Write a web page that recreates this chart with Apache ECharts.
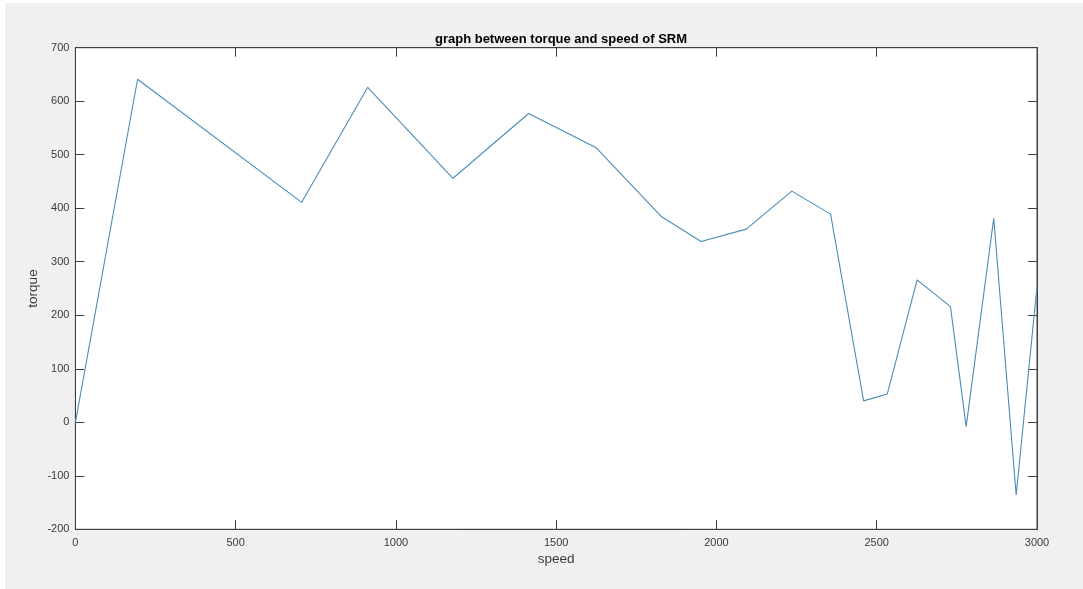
<!DOCTYPE html>
<html>
<head>
<meta charset="utf-8">
<script src="https://cdn.jsdelivr.net/npm/echarts@6/dist/echarts.min.js"></script>
<style>
html,body{margin:0;padding:0;background:#ffffff;width:1083px;height:589px;overflow:hidden;}
#chart{position:absolute;left:5px;top:3px;width:1078px;height:586px;}
</style>
</head>
<body>
<div id="chart"></div>
<script>
const speed  = [0, 194, 706, 912, 1178, 1414, 1625, 1829, 1952, 2093, 2235, 2356, 2459, 2533, 2626, 2730, 2779, 2865, 2935, 3000];
const torque = [0, 641, 411, 626, 456, 577, 513, 384, 338, 361, 432, 389, 40, 53, 266, 216, -8, 381, -136, 253];
const xTicks = [0, 500, 1000, 1500, 2000, 2500, 3000];
const yTicks = [-200, -100, 0, 100, 200, 300, 400, 500, 600, 700];

const points = speed.map((s, i) => [s, torque[i]]);
const font = 'Liberation Sans, Arial, Helvetica, sans-serif';
const axisColor = '#3f3f3f';
const labelColor = '#3a3a3a';
const plain = v => String(v);

const chart = echarts.init(document.getElementById('chart'), null, {renderer: 'canvas'});

const baseX = {
  type: 'value', min: xTicks[0], max: xTicks[xTicks.length - 1], interval: 500,
  splitLine: {show: false},
  axisLine: {show: true, onZero: false, lineStyle: {color: axisColor, width: 1}},
  axisTick: {show: true, inside: true, length: 9, lineStyle: {color: axisColor}}
};
const baseY = {
  type: 'value', min: yTicks[0], max: yTicks[yTicks.length - 1], interval: 100,
  splitLine: {show: false},
  axisLine: {show: true, onZero: false, lineStyle: {color: axisColor, width: 1}},
  axisTick: {show: true, inside: true, length: 9, lineStyle: {color: axisColor}}
};

chart.setOption({
  backgroundColor: '#f0f0f0',
  animation: false,
  title: {
    text: 'graph between torque and speed of SRM',
    left: 551, top: 25, textAlign: 'center',
    textStyle: {fontFamily: font, fontSize: 13, fontWeight: 'bold', color: '#000'}
  },
  grid: {
    left: 70.4, right: 46, top: 44.7, bottom: 59.7,
    show: true, backgroundColor: '#ffffff', borderColor: axisColor, borderWidth: 1
  },
  xAxis: [
    Object.assign({}, baseX, {
      position: 'bottom',
      name: 'speed', nameLocation: 'middle', nameGap: 23, nameMoveOverlap: false,
      nameTextStyle: {fontFamily: font, fontSize: 13.5, color: labelColor},
      axisLabel: {show: true, margin: 8, fontFamily: font, fontSize: 11, color: labelColor, formatter: plain}
    }),
    Object.assign({}, baseX, {
      position: 'top',
      axisLabel: {show: false}
    })
  ],
  yAxis: [
    Object.assign({}, baseY, {
      position: 'left',
      name: 'torque', nameLocation: 'middle', nameGap: 35, nameMoveOverlap: false,
      nameTextStyle: {fontFamily: font, fontSize: 13.5, color: labelColor},
      axisLabel: {show: true, margin: 6, fontFamily: font, fontSize: 11, color: labelColor, formatter: plain}
    }),
    Object.assign({}, baseY, {
      position: 'right',
      axisLabel: {show: false}
    })
  ],
  series: [{
    type: 'line',
    data: points,
    xAxisIndex: 0, yAxisIndex: 0,
    showSymbol: false,
    lineStyle: {color: '#4a8db7', width: 1.1},
    itemStyle: {color: '#4a8db7'}
  }]
});
</script>
</body>
</html>
